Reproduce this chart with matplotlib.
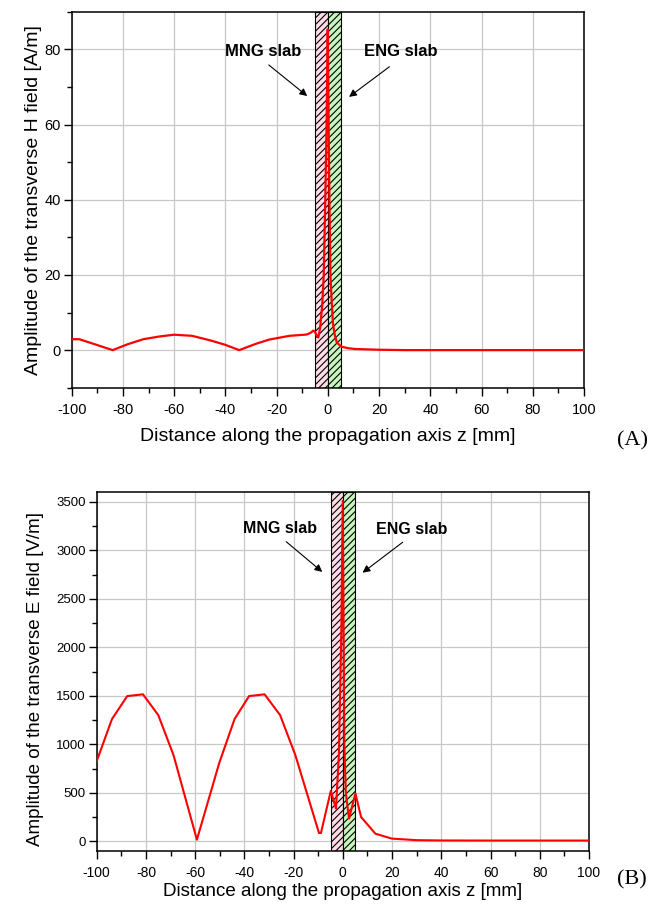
import numpy as np
import matplotlib
matplotlib.use('Agg')
import matplotlib.pyplot as plt
from matplotlib.ticker import MultipleLocator

plt.rcParams['font.family'] = ['Liberation Sans', 'DejaVu Sans']
plt.rcParams['axes.unicode_minus'] = False
plt.rcParams['hatch.linewidth'] = 0.8

# H field amplitude vs z (panel A)
h_z = [-100, -97, -84, -78, -72, -66, -60, -53, -45.4, -40, -34.6, -28, -22.9,
       -15, -9, -8, -6.5, -5.7, -5, -4.2, -3.7, -3.0, -2.2, -1.6, -1.0, -0.5,
       -0.05, 0.3, 0.6, 1.0, 1.5, 2.0, 2.7, 3.5, 5.4, 8, 10.6, 20, 30, 100]
h_amp = [2.9, 2.9, 0.0, 1.6, 2.9, 3.6, 4.1, 3.8, 2.5, 1.4, 0.0, 1.7, 2.8,
         3.8, 4.1, 4.2, 4.7, 5.2, 4.8, 3.6, 3.4, 6.0, 12, 20, 40, 60,
         85.3, 60, 40, 20, 13, 7, 4, 2, 0.9, 0.5, 0.3, 0.1, 0.0, 0.0]

# E field amplitude vs z (panel B)
e_z = [-100, -93.8, -87.6, -81.2, -75, -68.8, -59.3, -50.2, -44, -38.1, -31.8,
       -25.5, -19.3, -9.7, -8.9, -4.9, -2.8, -1.6, -0.6, -0.05, 0.35, 0.6,
       1.2, 2.5, 5.1, 7.4, 13.2, 19.9, 30, 40, 60, 100]
e_amp = [827, 1261, 1498, 1516, 1302, 889, 17, 810, 1261, 1498, 1516,
         1302, 889, 86, 86, 520, 338, 900, 2200, 3510, 2000, 1000,
         500, 234, 493, 251, 79, 28, 12, 9, 8, 8]

mng_slab = (-5, 0)
eng_slab = (0, 5)

fig = plt.figure(figsize=(6.54, 9.14), dpi=100)
ax1 = fig.add_axes([0.1096, 0.5758, 0.7834, 0.4114])
ax2 = fig.add_axes([0.1479, 0.0689, 0.7527, 0.3925])


def style_axes(ax, ymajor, yminor, xsize, ysize):
    ax.set_xlim(-100, 100)
    ax.xaxis.set_major_locator(MultipleLocator(20))
    ax.xaxis.set_minor_locator(MultipleLocator(10))
    ax.yaxis.set_major_locator(MultipleLocator(ymajor))
    ax.yaxis.set_minor_locator(MultipleLocator(yminor))
    ax.grid(True, which='major', color='#c8c8c8', lw=0.9)
    ax.set_axisbelow(True)
    ax.tick_params(which='major', direction='out', length=6, width=1)
    ax.tick_params(which='minor', direction='out', length=3.5, width=1)
    ax.tick_params(axis='x', labelsize=xsize, pad=5)
    ax.tick_params(axis='y', labelsize=ysize, pad=2)
    for s in ax.spines.values():
        s.set_linewidth(1.1)


def draw_slabs(ax):
    ax.axvspan(*mng_slab, facecolor='#ffdbe4', edgecolor='black', hatch='/////',
               lw=0.8, zorder=1)
    ax.axvspan(*eng_slab, facecolor='#c8f4c0', edgecolor='black', hatch='/////',
               lw=0.8, zorder=1)


# ---- panel A ----
style_axes(ax1, 20, 10, 10.5, 10.5)
ax1.set_ylim(-10, 90)
draw_slabs(ax1)
ax1.plot(h_z, h_amp, color='red', lw=1.6, zorder=3)
ax1.text(-25.2, 79.4, 'MNG slab', ha='center', va='center', fontsize=12,
         fontweight='bold')
ax1.text(28.3, 79.4, 'ENG slab', ha='center', va='center', fontsize=12,
         fontweight='bold')
arrow = dict(arrowstyle='-|>', color='black', lw=0.8, mutation_scale=11)
ax1.annotate('', xy=(-7.2, 67.1), xytext=(-23.9, 76.3), arrowprops=arrow)
ax1.annotate('', xy=(7.4, 66.9), xytext=(24.9, 75.8), arrowprops=arrow)
ax1.set_xlabel('Distance along the propagation axis z [mm]', fontsize=14)
ax1.set_ylabel('Amplitude of the transverse H field [A/m]', fontsize=14)
ax1.xaxis.set_label_coords(0.5, -0.108)
ax1.yaxis.set_label_coords(-0.058, 0.5)

# ---- panel B ----
style_axes(ax2, 500, 250, 10, 9.5)
ax2.set_ylim(-100, 3600)
draw_slabs(ax2)
ax2.plot(e_z, e_amp, color='red', lw=1.5, zorder=3)
ax2.text(-25.7, 3225, 'MNG slab', ha='center', va='center', fontsize=11.5,
         fontweight='bold')
ax2.text(27.9, 3214, 'ENG slab', ha='center', va='center', fontsize=11.5,
         fontweight='bold')
ax2.annotate('', xy=(-7.5, 2760), xytext=(-23.9, 3109), arrowprops=arrow)
ax2.annotate('', xy=(7.1, 2753), xytext=(25.2, 3102), arrowprops=arrow)
ax2.set_xlabel('Distance along the propagation axis z [mm]', fontsize=13.5)
ax2.set_ylabel('Amplitude of the transverse E field [V/m]', fontsize=13.5)
ax2.xaxis.set_label_coords(0.5, -0.09)
ax2.yaxis.set_label_coords(-0.108, 0.48)

fig.text(632 / 654, 1 - 441 / 914, '(A)', ha='center', va='center',
         fontsize=16, family=['Liberation Serif', 'DejaVu Serif'])
fig.text(632 / 654, 1 - 880 / 914, '(B)', ha='center', va='center',
         fontsize=16, family=['Liberation Serif', 'DejaVu Serif'])

fig.savefig('out.png', dpi=100)
